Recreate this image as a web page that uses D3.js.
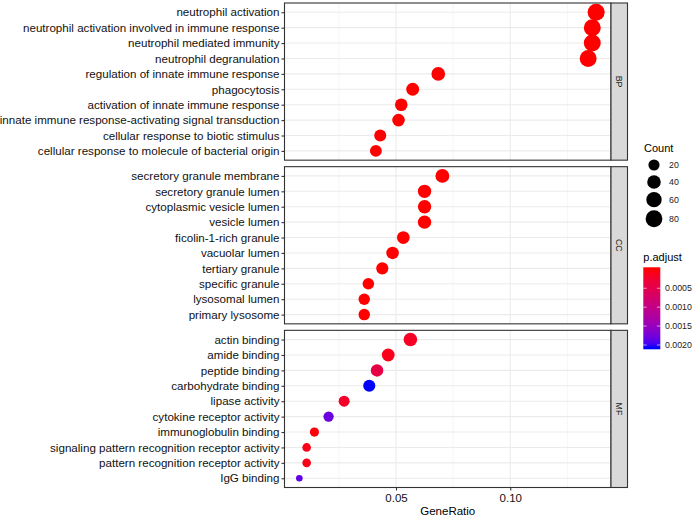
<!DOCTYPE html>
<html><head><meta charset="utf-8">
<script src="https://cdn.jsdelivr.net/npm/d3@7"></script>
<style>body{margin:0;background:#fff} text{font-family:"Liberation Sans",Arial,sans-serif}</style>
</head><body><svg id="c" width="693" height="518"></svg>
<script>
const ontologies = ["BP","CC","MF"];

const bpTerms = ["neutrophil activation","neutrophil activation involved in immune response","neutrophil mediated immunity","neutrophil degranulation","regulation of innate immune response","phagocytosis","activation of innate immune response","innate immune response-activating signal transduction","cellular response to biotic stimulus","cellular response to molecule of bacterial origin"];
const bpRatio = [0.1376,0.1359,0.1359,0.1341,0.0685,0.0573,0.0523,0.0511,0.0431,0.0412];
const bpCount = [83,82,82,81,41,34,31,31,26,25];
const bpPadj = [1e-20,1e-20,1e-20,1e-20,1e-10,1e-9,1e-8,1e-8,1e-7,1e-7];

const ccTerms = ["secretory granule membrane","secretory granule lumen","cytoplasmic vesicle lumen","vesicle lumen","ficolin-1-rich granule","vacuolar lumen","tertiary granule","specific granule","lysosomal lumen","primary lysosome"];
const ccRatio = [0.0703,0.0625,0.0625,0.0625,0.0532,0.0485,0.0440,0.0379,0.0361,0.0361];
const ccCount = [43,38,38,38,32,30,27,23,22,22];
const ccPadj = [1e-12,1e-12,1e-12,1e-12,1e-10,1e-9,1e-9,1e-8,1e-8,1e-8];

const mfTerms = ["actin binding","amide binding","peptide binding","carbohydrate binding","lipase activity","cytokine receptor activity","immunoglobulin binding","signaling pattern recognition receptor activity","pattern recognition receptor activity","IgG binding"];
const mfRatio = [0.0563,0.0466,0.0417,0.0383,0.0273,0.0205,0.0143,0.0109,0.0109,0.0077];
const mfCount = [40,33,30,27,19,15,10,8,8,5];
const mfPadj = [0.00018,0.00010,0.00042,0.00206,0.00020,0.00180,0.00003,0.00010,0.00010,0.00186];

const xTicks = [0.05, 0.10];
const xMinor = [0.025, 0.075, 0.125];
const countBreaks = [20,40,60,80];
const padjBreaks = [0.0005,0.0010,0.0015,0.0020];

const panels = [
  {name:"BP", terms:bpTerms, ratio:bpRatio, count:bpCount, padj:bpPadj},
  {name:"CC", terms:ccTerms, ratio:ccRatio, count:ccCount, padj:ccPadj},
  {name:"MF", terms:mfTerms, ratio:mfRatio, count:mfCount, padj:mfPadj}
];

const svg = d3.select("#c");
const L = 284.5, R = 611, stripW = 16.5;
const panelTop = 3, panelBottom = 487.5, gap = 6.5;
const ph = (panelBottom - panelTop - 2*gap)/3;

const allRatio = bpRatio.concat(ccRatio, mfRatio);
const allCount = bpCount.concat(ccCount, mfCount);
const allPadj = bpPadj.concat(ccPadj, mfPadj);
const rmin = d3.min(allRatio), rmax = d3.max(allRatio), ex = (rmax-rmin)*0.05;
const x = d3.scaleLinear().domain([rmin-ex, rmax+ex]).range([L, R]);
const cmin = d3.min(allCount), cmax = d3.max(allCount);
const sizeT = d3.scaleLinear().domain([0,1]).range([3.3, 8.5]);
const size = c => sizeT(Math.sqrt(Math.max(0,(c-cmin))/(cmax-cmin)));
const pmin = d3.min(allPadj), pmax = d3.max(allPadj);
const color = d3.scaleSequential(d3.interpolateLab("#FF0000","#0000FF")).domain([pmin, pmax]).clamp(true);

const dark = "#333333", txt = "#111111";

panels.forEach((p, i) => {
  const top = panelTop + i*(ph+gap), bot = top + ph;
  const y = d3.scalePoint().domain(p.terms).range([top, bot]).padding(0.6);
  const g = svg.append("g");
  g.selectAll(".mn").data(xMinor).join("line")
    .attr("x1", d=>x(d)).attr("x2", d=>x(d)).attr("y1", top).attr("y2", bot)
    .attr("stroke", "#F0F0F0").attr("stroke-width", 0.6);
  g.selectAll(".mj").data(xTicks).join("line")
    .attr("x1", d=>x(d)).attr("x2", d=>x(d)).attr("y1", top).attr("y2", bot)
    .attr("stroke", "#EBEBEB").attr("stroke-width", 1.1);
  g.selectAll(".yg").data(p.terms).join("line")
    .attr("x1", L).attr("x2", R).attr("y1", d=>y(d)).attr("y2", d=>y(d))
    .attr("stroke", "#EBEBEB").attr("stroke-width", 1.1);
  const rows = p.terms.map((t, k) => ({t, r:p.ratio[k], c:p.count[k], pa:p.padj[k]}));
  g.selectAll("circle").data(rows).join("circle")
    .attr("cx", d=>x(d.r)).attr("cy", d=>y(d.t)).attr("r", d=>size(d.c))
    .attr("fill", d=>color(d.pa));
  g.append("rect").attr("x", L).attr("y", top).attr("width", R-L).attr("height", ph)
    .attr("fill", "none").attr("stroke", dark).attr("stroke-width", 1.1);
  const ax = g.append("g").attr("transform", `translate(${L},0)`)
    .call(d3.axisLeft(y).tickSize(3).tickPadding(2));
  ax.select(".domain").remove();
  ax.selectAll(".tick line").attr("stroke", dark).attr("stroke-width", 1.1);
  ax.selectAll(".tick text").attr("fill", txt).attr("font-size", 11.6)
    .style("font-family", '"Liberation Sans",Arial,sans-serif');
  g.append("rect").attr("x", R).attr("y", top).attr("width", stripW).attr("height", ph)
    .attr("fill", "#D9D9D9").attr("stroke", dark).attr("stroke-width", 1.1);
  g.append("text").attr("transform", `translate(${R+stripW/2},${top+ph/2}) rotate(90)`)
    .attr("text-anchor", "middle").attr("dy", "0.35em").attr("font-size", 8.8)
    .attr("fill", "#1A1A1A").text(p.name);
});

const xa = svg.append("g").attr("transform", `translate(0,${panelBottom})`)
  .call(d3.axisBottom(x).tickValues(xTicks).tickFormat(d3.format(".2f")).tickSize(3).tickPadding(3));
xa.select(".domain").remove();
xa.selectAll(".tick line").attr("stroke", dark).attr("stroke-width", 1.1);
xa.selectAll(".tick text").attr("fill", txt).attr("font-size", 11.5)
  .style("font-family", '"Liberation Sans",Arial,sans-serif');
svg.append("text").attr("x", (L+R)/2).attr("y", 515).attr("text-anchor", "middle")
  .attr("font-size", 11.5).attr("fill", "#000").text("GeneRatio");

const lx = 644;
svg.append("text").attr("x", lx).attr("y", 151.5).attr("font-size", 11).attr("fill", "#000").text("Count");
let yy = 156.5;
countBreaks.forEach(c => {
  const r = size(c), h = Math.max(17, 2*r+3);
  const cy = yy + h/2;
  svg.append("circle").attr("cx", 654).attr("cy", cy).attr("r", r).attr("fill", "#000");
  svg.append("text").attr("x", 669).attr("y", cy).attr("dy", "0.35em").attr("font-size", 8.8)
    .attr("fill", "#1a1a1a").text(c);
  yy += h;
});

svg.append("text").attr("x", 643.3).attr("y", 261).attr("font-size", 11).attr("fill", "#000").text("p.adjust");
const barTop = 267.3, barBot = 349.3, barX = 643.3, barW = 17;
const half = (barBot-barTop)/40;
const yb = d3.scaleLinear().domain([pmin, pmax]).range([barTop+half, barBot-half]);
const defs = svg.append("defs");
const grad = defs.append("linearGradient").attr("id","pg").attr("x1",0).attr("x2",0).attr("y1",0).attr("y2",1);
d3.range(0, 1.0001, 0.02).forEach(t => {
  const v = yb.invert(barTop + t*(barBot-barTop));
  grad.append("stop").attr("offset", t).attr("stop-color", color(v));
});
svg.append("rect").attr("x", barX).attr("y", barTop).attr("width", barW).attr("height", barBot-barTop).attr("fill", "url(#pg)");
padjBreaks.forEach(b => {
  const ty = yb(b);
  svg.append("line").attr("x1", barX).attr("x2", barX+3.4).attr("y1", ty).attr("y2", ty).attr("stroke", "#fff").attr("stroke-width", 0.6);
  svg.append("line").attr("x1", barX+barW-3.4).attr("x2", barX+barW).attr("y1", ty).attr("y2", ty).attr("stroke", "#fff").attr("stroke-width", 0.6);
  svg.append("text").attr("x", 665).attr("y", ty).attr("dy", "0.35em").attr("font-size", 8.8)
    .attr("fill", "#1a1a1a").text(d3.format(".4f")(b));
});
</script></body></html>
